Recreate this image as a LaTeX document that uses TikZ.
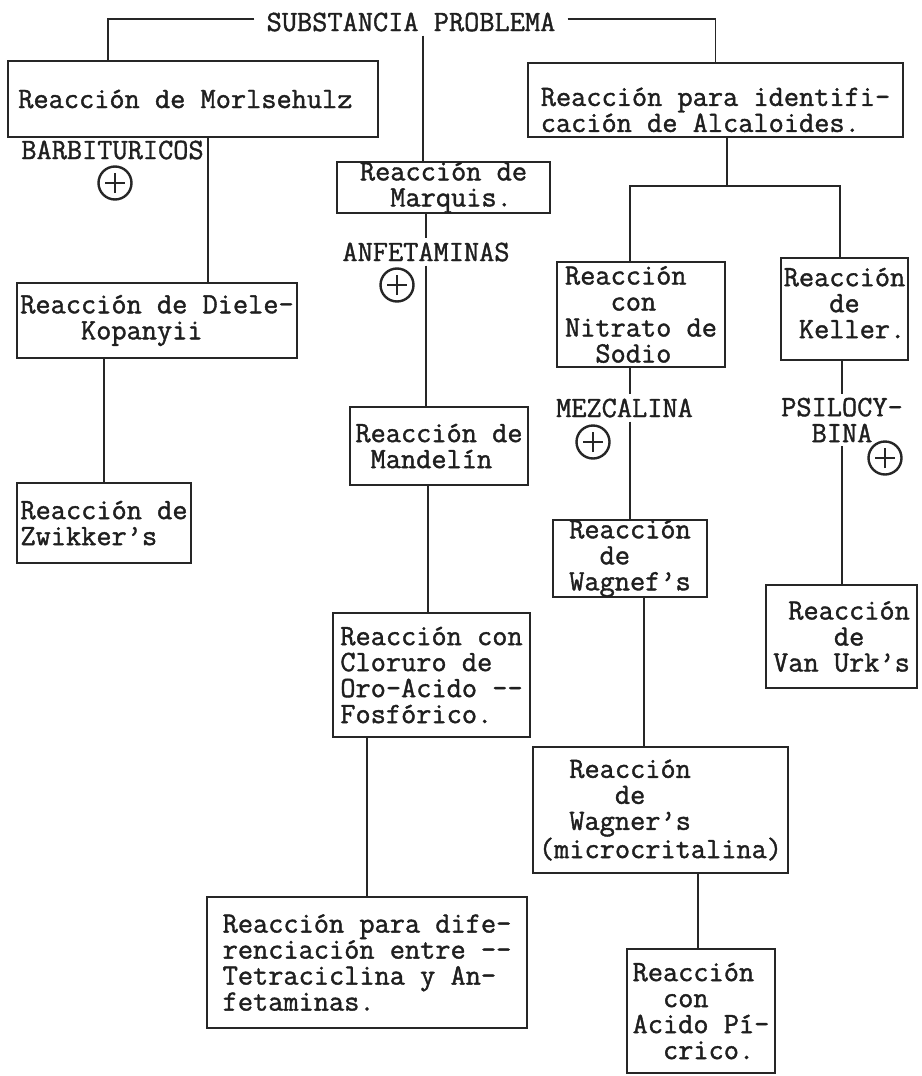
\documentclass[tikz,border=0pt]{standalone}
\usepackage{fontspec}
\newfontfamily\twfont{Latin Modern Mono}[FakeBold=1.3]
\tikzset{
  tw/.style={font=\twfont\fontsize{29.5pt}{26pt}\selectfont, text=black!88},
  box/.style={tw, draw=black!85, line width=2.2pt, rectangle, inner sep=0pt, align=left},
  lab/.style={tw, inner xsep=0pt, inner ysep=4pt, align=center},
  conn/.style={draw=black!85, line width=1.8pt},
  plusmark/.style={circle, draw=black!85, line width=2.4pt, minimum size=33pt, inner sep=0pt,
    path picture={\draw[line width=2.2pt, black!85]
      ([xshift=-10pt]path picture bounding box.center) -- ([xshift=10pt]path picture bounding box.center)
      ([yshift=-10pt]path picture bounding box.center) -- ([yshift=10pt]path picture bounding box.center);}}
}
\begin{document}
\begin{tikzpicture}[x=1pt,y=-1pt]
\fill[white] (0,0) rectangle (921,1076);
\useasboundingbox (0,0) rectangle (921,1076);

% title and first level
\node[lab, inner xsep=12pt] (title) at (411,22) {SUBSTANCIA PROBLEMA};
\node[box, minimum width=370pt, minimum height=76pt] (morl) at (193,99) {Reacción de Morlsehulz~};
\node[box, minimum width=375pt, minimum height=74pt] (alca) at (715.5,100) {\rule{0pt}{38pt}Reacción para identifi-\\cación de Alcaloides.};
\node[box, minimum width=213pt, minimum height=51pt] (marq) at (443.5,187.5) {Reacción de\\~~Marquis.};

% left column
\node[lab] (barb) at (112.5,150) {BARBITURICOS};
\node[plusmark] (plusa) at (115,183) {};
\node[box, minimum width=280pt, minimum height=75pt] (diele) at (157,320.5) {Reacción de Diele-\\~~~~Kopanyii};
\node[box, minimum width=174pt, minimum height=80pt] (zwik) at (104,523) {Reacción de\\Zwikker’s};

% middle column
\node[lab] (anfe) at (426,252) {ANFETAMINAS};
\node[plusmark] (plusb) at (397,285) {};
\node[box, minimum width=178pt, minimum height=78pt] (mand) at (439,446) {Reacción de\\~Mandelín};
\node[box, minimum width=197pt, minimum height=124pt] (clor) at (431.5,675) {Reacción con\\Cloruro de\\Oro-Acido --\\Fosfórico.};
\node[box, minimum width=320pt, minimum height=131pt] (dife) at (367,962.5) {Reacción para dife-\\renciación entre --\\Tetraciclina y An-\\fetaminas.};

% right columns
\node[box, minimum width=168pt, minimum height=105pt] (nitr) at (641,314.5) {Reacción\\~~~con\\Nitrato de\\~~Sodio};
\node[box, minimum width=127pt, minimum height=102pt] (kell) at (844.5,309) {Reacción\\~~~de\\~Keller.\rule[-12pt]{0pt}{0pt}};
\node[lab] (mezc) at (624.5,408) {MEZCALINA};
\node[plusmark] (plusc) at (593,442) {};
\node[lab] (psil) at (842,420) {PSILOCY-\\BINA};
\node[plusmark] (plusd) at (885,458) {};
\node[box, minimum width=154pt, minimum height=77pt] (wagf) at (630,558.5) {Reacción\\~~de\\Wagnef’s};
\node[box, minimum width=151pt, minimum height=103pt] (vurk) at (841.5,636.5) {~Reacción\\~~~~de\\Van Urk’s};
\node[box, minimum width=255pt, minimum height=126pt] (wagr) at (660.5,810) {~~Reacción\\~~~~~de\\~~Wagner’s\\(microcritalina)};
\node[box, minimum width=148pt, minimum height=124pt] (picr) at (701,1011) {Reacción\\~~con\\Acido Pí-\\~~crico.};

% connectors
\draw[conn] ([yshift=3pt]title.west) -| ([xshift=-85pt]morl.north);
\draw[conn] ([yshift=3pt]title.east) -| (alca.north);
\draw[conn] ([xshift=12pt]title.south) -- ([xshift=12pt]title.south |- marq.north);
\draw[conn] ([xshift=15pt]morl.south) -- ([xshift=15pt]morl.south |- diele.north);
\draw[conn] (zwik.north |- diele.south) -- (zwik.north);
\draw[conn] (anfe.north |- marq.south) -- (anfe.north);
\draw[conn] (anfe.south) -- (anfe.south |- mand.north);
\draw[conn] ([xshift=-11pt]mand.south) -- ([xshift=-11pt]mand.south |- clor.north);
\draw[conn] (dife.north |- clor.south) -- (dife.north);
\draw[conn] ([xshift=11.5pt]alca.south) -- ++(0,48) coordinate (split);
\draw[conn] ([xshift=-11pt]nitr.north) |- ([xshift=-4.5pt]kell.north |- split) -- ([xshift=-4.5pt]kell.north);
\draw[conn] ([xshift=-11pt]nitr.south) -- ([xshift=-11pt]nitr.south |- mezc.north);
\draw[conn] ([xshift=-11pt]nitr.south |- mezc.south) -- ([xshift=-11pt]nitr.south |- wagf.north);
\draw[conn] ([xshift=14pt]wagf.south) -- ([xshift=14pt]wagf.south |- wagr.north);
\draw[conn] ([xshift=-3pt]picr.north |- wagr.south) -- ([xshift=-3pt]picr.north);
\draw[conn] (psil.north |- kell.south) -- (psil.north);
\draw[conn] (psil.south) -- (psil.south |- vurk.north);
\end{tikzpicture}
\end{document}
